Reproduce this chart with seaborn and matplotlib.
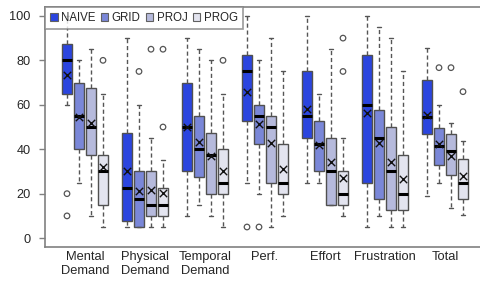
import matplotlib
matplotlib.use("Agg")
import matplotlib.pyplot as plt
from matplotlib.patches import Patch
import seaborn as sns
import pandas as pd

# ---------------- data ----------------
categories = ["Mental\nDemand", "Physical\nDemand", "Temporal\nDemand", "Perf.",
              "Effort", "Frustration", "Total"]
series = ["NAIVE", "GRID", "PROJ", "PROG"]

whishi = [[100, 90, 90, 100, 100, 100, 85.7],
          [80, 60, 85, 80, 65, 95, 60],
          [85, 45, 80, 90, 85, 90, 51.7],
          [65, 35, 65, 75, 45, 75, 43.8]]
q3 = [[87.5, 47.5, 70, 82.5, 75, 82.5, 71.2],
      [70, 30, 55, 60, 52.5, 57.5, 49.5],
      [67.5, 30, 47.5, 55, 45, 50, 46.8],
      [37.5, 22.5, 40, 42.5, 30, 37.5, 35.7]]
median = [[80, 22.5, 50, 75, 55, 60, 54.7],
          [55, 17.5, 40, 55, 42.5, 45, 41.6],
          [50, 15, 37.5, 50, 30, 30, 39],
          [30, 15, 25, 25, 20, 20, 24.8]]
q1 = [[65, 7.5, 30, 52.5, 45, 25, 47],
      [40, 5, 27.5, 42.5, 30, 17.5, 33],
      [37.5, 10, 20, 25, 15, 12.5, 28.6],
      [15, 10, 20, 20, 15, 12.5, 17.4]]
whislo = [[60, 5, 10, 25, 25, 5, 19.1],
          [25, 5, 15, 20, 25, 10, 24.8],
          [10, 5, 10, 5, 15, 5, 13.6],
          [5, 5, 5, 10, 10, 5, 10.2]]
means = [[73.2, 30, 50, 65.6, 58, 56.5, 55.5],
         [54.7, 21.4, 43.2, 51.3, 42, 42.7, 42.3],
         [51.9, 21.8, 36.8, 43, 34.1, 34.2, 37.1],
         [31.8, 20.3, 30.4, 31.1, 27.1, 26.6, 27.8]]
outliers = [[[20, 10], [], [], [5], [], [], []],
            [[], [75], [], [5], [], [], [76.7]],
            [[], [85], [], [], [], [], [76.7]],
            [[80], [85, 50], [80], [], [90, 75], [], [65.9]]]
yticks = [0, 20, 40, 60, 80, 100]

# ---------------- style ----------------
colors = ["#2B45DF", "#7A87D8", "#B6BADC", "#E3E4EF"]
offsets = [-0.3, -0.1, 0.1, 0.3]
box_w = 0.165
edge = "#505050"
spine_c = "#808080"

sns.set_style("white")
plt.rcParams["font.family"] = ["Liberation Sans", "DejaVu Sans"]

fig = plt.figure(figsize=(4.81, 2.82), dpi=100)
ax = fig.add_axes([45 / 481, 1 - 247 / 282, 1 - 45 / 481, 240 / 282])

mean_rows, out_rows = [], []
for s, name in enumerate(series):
    stats, pos = [], []
    for g in range(len(categories)):
        stats.append(dict(whislo=whislo[s][g], q1=q1[s][g], med=median[s][g],
                          q3=q3[s][g], whishi=whishi[s][g], fliers=[]))
        pos.append(g + offsets[s])
        mean_rows.append(dict(x=g + offsets[s], y=means[s][g], series=name))
        for v in outliers[s][g]:
            out_rows.append(dict(x=g + offsets[s], y=v, series=name))
    ax.bxp(stats, positions=pos, widths=box_w, capwidths=0.08,
           showfliers=False, patch_artist=True,
           boxprops=dict(facecolor=colors[s], edgecolor=edge, linewidth=1.0),
           medianprops=dict(color="black", linewidth=2.2, solid_capstyle="butt"),
           whiskerprops=dict(color="#555555", linewidth=1.0, linestyle=(0, (3, 2))),
           capprops=dict(color="#555555", linewidth=1.0),
           manage_ticks=False, zorder=2)

mean_df = pd.DataFrame(mean_rows)
out_df = pd.DataFrame(out_rows)
sns.scatterplot(data=mean_df, x="x", y="y", marker="x", color="#111111",
                s=28, linewidth=1.0, ax=ax, zorder=4, legend=False)
sns.scatterplot(data=out_df, x="x", y="y", marker="o", facecolor="none",
                edgecolor="#555555", s=16, linewidth=0.9, ax=ax, zorder=4,
                legend=False)

ax.set_xlim(-40 / 60, -40 / 60 + 436 / 60)
ax.set_ylim(-4, 104)
ax.set_yticks(yticks)
ax.set_yticklabels([str(t) for t in yticks], fontsize=9.2)
ax.set_xticks(range(len(categories)))
ax.set_xticklabels(categories, fontsize=9.3)
ax.set_xlabel("")
ax.set_ylabel("")
ax.tick_params(axis="y", direction="out", length=4.5, width=1, color=spine_c,
               pad=6, left=True)
ax.tick_params(axis="x", length=0, pad=3)
for side in ["left", "bottom", "top"]:
    ax.spines[side].set_color(spine_c)
    ax.spines[side].set_linewidth(1.2)
ax.spines["right"].set_visible(False)

handles = [Patch(facecolor=c, edgecolor="#606060", linewidth=0.8) for c in colors]
leg = ax.legend(handles, series, loc="upper left", bbox_to_anchor=(0, 1),
                ncol=4, fontsize=8.3, frameon=True, fancybox=False,
                borderaxespad=0, handlelength=0.65, handleheight=0.65,
                handletextpad=0.3, columnspacing=0.45, borderpad=0.45)
leg.get_frame().set_edgecolor(spine_c)
leg.get_frame().set_linewidth(1.2)
leg.set_zorder(10)

fig.savefig("out.png", dpi=100)
